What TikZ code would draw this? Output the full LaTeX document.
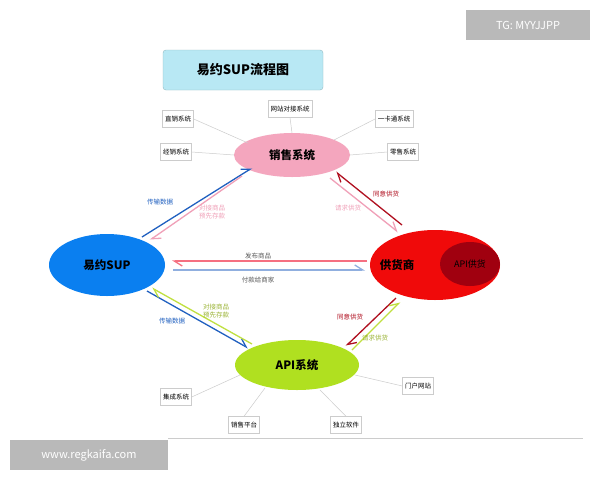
\documentclass[tikz,border=0pt]{standalone}
\usepackage{fontspec}
\setmainfont{Noto Sans CJK SC}
\usetikzlibrary{arrows.meta,shapes.geometric}
\definecolor{pinkf}{HTML}{F4A6BE}
\definecolor{bluef}{HTML}{0A7FF0}
\definecolor{redf}{HTML}{F00A0A}
\definecolor{dredf}{HTML}{A0000F}
\definecolor{greenf}{HTML}{B0E020}
\definecolor{titlef}{HTML}{B8E8F4}
\definecolor{ablue}{HTML}{2060C0}
\definecolor{apink}{HTML}{F0A0B8}
\definecolor{adred}{HTML}{B01020}
\definecolor{ayg}{HTML}{C0E040}
\tikzset{
 sbox/.style={draw=gray!40,fill=white,font=\fontsize{6.5}{7.5}\selectfont,inner sep=2.5pt,minimum height=17pt},
 spoke/.style={draw=gray!40,line width=0.5pt},
 harp/.style={line width=1.3pt,-{Straight Barb[harpoon,length=8pt,width=10pt]}},
 lab/.style={font=\fontsize{6.5}{7.5}\selectfont,align=center},
 big/.style={font=\bfseries\fontsize{11.5}{13}\selectfont}
}
\begin{document}
\begin{tikzpicture}[x=1pt,y=-1pt]
\useasboundingbox (0,0) rectangle (600,480);
\fill[white] (0,0) rectangle (600,480);
\node[fill=gray!55,text=white,minimum width=124pt,minimum height=30pt,font=\fontsize{11}{13}\selectfont] (tg) at (528,25) {TG: MYYJJPP};
\draw[gray!40] (168,438) -- (583,438);
\node[fill=gray!55,text=white,minimum width=158pt,minimum height=30pt,font=\fontsize{11}{13}\selectfont] (www) at (89,455) {www.regkaifa.com};
\node[fill=titlef,draw=titlef!80!black,rounded corners=3pt,minimum width=160pt,minimum height=40pt,font=\bfseries\fontsize{13}{15}\selectfont] (title) at (243,70) {易约SUP流程图};
% small boxes
\node[sbox] (zx) at (178,119) {直销系统};
\node[sbox] (jx) at (176,152) {经销系统};
\node[sbox] (wz) at (290,109) {网站对接系统};
\node[sbox] (yk) at (394,119) {一卡通系统};
\node[sbox] (ls) at (403,152) {零售系统};
\node[sbox] (jc) at (176,397) {集成系统};
\node[sbox] (xp) at (244,425) {销售平台};
\node[sbox] (dl) at (346,425) {独立软件};
\node[sbox] (mh) at (418,386) {门户网站};
% ellipses
\node[ellipse,fill=pinkf,minimum width=116pt,minimum height=44pt,big] (xs) at (292,155) {销售系统};
\node[ellipse,fill=bluef,minimum width=116pt,minimum height=62pt,big] (sup) at (107,265) {易约SUP};
\node[ellipse,fill=redf,minimum width=130pt,minimum height=70pt] (gh) at (435,265) {};
\node[big] (ghl) at (397,265) {供货商};
\node[ellipse,fill=dredf,minimum width=60pt,minimum height=44pt,font=\fontsize{9}{11}\selectfont] (api2) at (470,264) {API供货};
\node[ellipse,fill=greenf,minimum width=124pt,minimum height=50pt,big] (api) at (297,365) {API系统};
% spokes
\draw[spoke] (zx.east) -- (248,143);
\draw[spoke] (jx.east) -- (234,155);
\draw[spoke] (wz.south) -- (xs.north);
\draw[spoke] (yk.west) -- (334,140);
\draw[spoke] (ls.west) -- (350,155);
\draw[spoke] (jc.east) -- (240,375);
\draw[spoke] (xp.north) -- (265,388);
\draw[spoke] (dl.north) -- (320,390);
\draw[spoke] (mh.west) -- (355,375);
% arrows
\coordinate (a1) at (142,237); \coordinate (b1) at (252,168);
\draw[harp,ablue] (a1) -- (b1);
\node[lab,ablue] (l1) at (160,202) {传输数据};
\coordinate (a2) at (242,176); \coordinate (b2) at (150,240);
\draw[harp,apink] (a2) -- (b2);
\node[lab,apink] (l2) at (212,212) {对接商品\\预先存款};
\coordinate (a3) at (330,178); \coordinate (b3) at (398,232);
\draw[harp,apink] (a3) -- (b3);
\node[lab,apink] (l3) at (348,208) {请求供货};
\coordinate (a4) at (402,225); \coordinate (b4) at (336,172);
\draw[harp,adred] (a4) -- (b4);
\node[lab,adred] (l4) at (386,194) {同意供货};
\coordinate (a5) at (367,261); \coordinate (b5) at (172,261);
\draw[harp,apink!70!red] (a5) -- (b5);
\node[lab,gray!70!black] (l5) at (258,256) {发布商品};
\coordinate (a6) at (173,270); \coordinate (b6) at (365,270);
\draw[harp,ablue!50] (a6) -- (b6);
\node[lab,gray!70!black] (l6) at (258,280) {付款给商家};
\coordinate (a7) at (147,291); \coordinate (b7) at (248,348);
\draw[harp,ablue] (a7) -- (b7);
\node[lab,ablue] (l7) at (172,321) {传输数据};
\coordinate (a8) at (252,344); \coordinate (b8) at (152,288);
\draw[harp,ayg] (a8) -- (b8);
\node[lab,ayg!80!black] (l8) at (216,311) {对接商品\\预先存款};
\coordinate (a9) at (396,298); \coordinate (b9) at (346,346);
\draw[harp,adred] (a9) -- (b9);
\node[lab,adred] (l9) at (350,317) {同意供货};
\coordinate (a10) at (352,350); \coordinate (b10) at (400,302);
\draw[harp,ayg] (a10) -- (b10);
\node[lab,ayg!80!black] (l10) at (375,338) {请求供货};
\end{tikzpicture}
\end{document}
